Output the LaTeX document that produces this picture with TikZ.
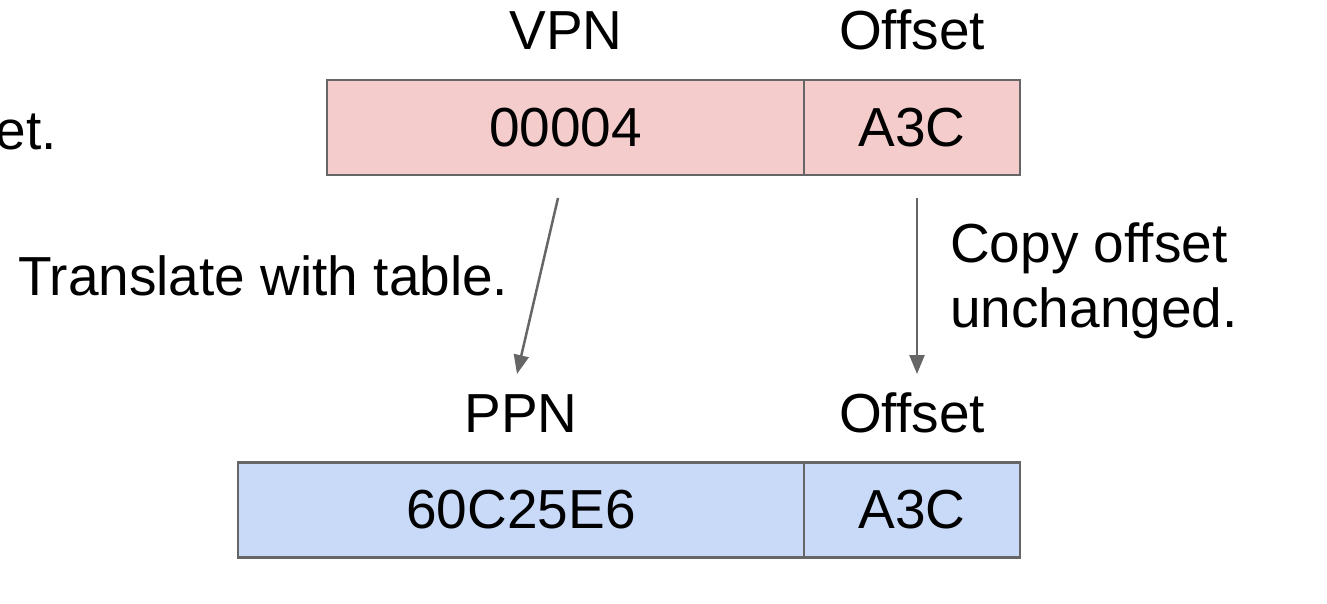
\documentclass[tikz,border=0pt]{standalone}
\usepackage{fontspec}
\setmainfont{Liberation Sans}
\usetikzlibrary{arrows.meta}
\definecolor{edgegray}{HTML}{666666}
\definecolor{vpink}{HTML}{F4CCCC}
\definecolor{pblue}{HTML}{C9DAF8}
\begin{document}
\begin{tikzpicture}[x=1pt,y=-1pt,
  lbl/.style={font=\fontsize{55}{65}\selectfont, inner sep=0pt, text=black},
  field/.style={draw=edgegray, line width=2.5pt, minimum height=95pt, inner sep=0pt, font=\fontsize{55}{65}\selectfont},
  conn/.style={draw=edgegray, line width=2.5pt, -{Triangle[length=19pt,width=15pt]}}]
\useasboundingbox (0,0) rectangle (1327,604);
\clip (0,0) rectangle (1327,604);
% top address
\node[field, fill=vpink, minimum width=477pt] (vpn) at (565.5,127.5) {00004};
\node[field, fill=vpink, minimum width=216pt] (voff) at (912,127.5) {A3C};
% bottom address
\node[field, fill=pblue, minimum width=566pt] (ppn) at (521,510) {60C25E6};
\node[field, fill=pblue, minimum width=216pt] (poff) at (912,510) {A3C};
% labels
\node[lbl, anchor=base] (vpnl) at (566,50) {VPN};
\node[lbl, anchor=base] (voffl) at (912,50) {Offset};
\node[lbl, anchor=base] (ppnl) at (521,432) {PPN};
\node[lbl, anchor=base] (poffl) at (912,432) {Offset};
\node[lbl, anchor=base east] (cut) at (57,150) {offset.};
\node[lbl, anchor=base west] (trl) at (18,295) {Translate with table.};
\node[lbl, anchor=base west, align=left] (cpl) at (950,327) {Copy offset\\unchanged.};
% connectors
\coordinate (a1s) at (558,198);
\coordinate (a1e) at (517,374);
\coordinate (a2s) at (917,198);
\coordinate (a2e) at (917,374);
\draw[conn] (a1s) -- (a1e);
\draw[conn] (a2s) -- (a2e);
\end{tikzpicture}
\end{document}
